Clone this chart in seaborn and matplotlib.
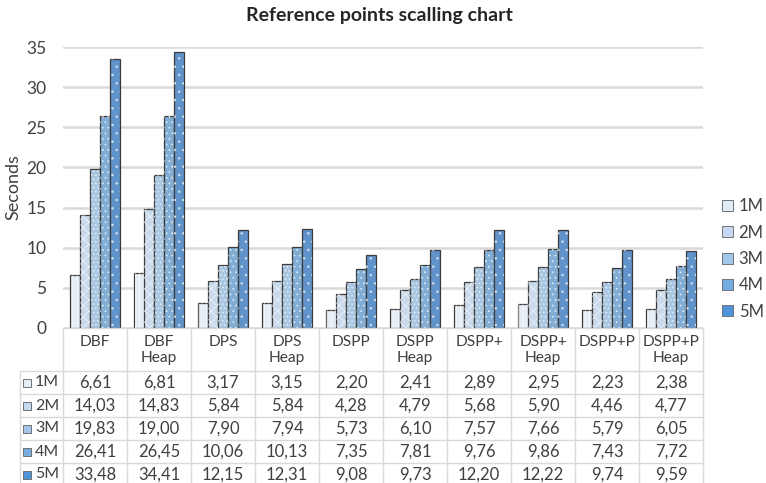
import matplotlib
matplotlib.use("Agg")
import matplotlib.pyplot as plt
from matplotlib.patches import Rectangle, Patch
import pandas as pd
import seaborn as sns

categories = ["DBF", "DBF\nHeap", "DPS", "DPS\nHeap", "DSPP", "DSPP\nHeap",
              "DSPP+", "DSPP+\nHeap", "DSPP+P", "DSPP+P\nHeap"]
sizes = ["1M", "2M", "3M", "4M", "5M"]
t_1m = [6.61, 6.81, 3.17, 3.15, 2.20, 2.41, 2.89, 2.95, 2.23, 2.38]
t_2m = [14.03, 14.83, 5.84, 5.84, 4.28, 4.79, 5.68, 5.90, 4.46, 4.77]
t_3m = [19.83, 19.00, 7.90, 7.94, 5.73, 6.10, 7.57, 7.66, 5.79, 6.05]
t_4m = [26.41, 26.45, 10.06, 10.13, 7.35, 7.81, 9.76, 9.86, 7.43, 7.72]
t_5m = [33.48, 34.41, 12.15, 12.31, 9.08, 9.73, 12.20, 12.22, 9.74, 9.59]
series = [t_1m, t_2m, t_3m, t_4m, t_5m]

colors = ["#e2edf8", "#c3daf1", "#a2c6ea", "#74ade2", "#4f93da"]
hatches = ["||||", "xxx", "....", "...", ".."]
edge = "#3c3c3c"
grid_c = "#d9d9d9"
txt_c = "#404040"

rows = []
for s, vals in zip(sizes, series):
    for c, v in zip(categories, vals):
        rows.append({"algo": c, "size": s, "sec": v})
df = pd.DataFrame(rows)

sns.set_style("white")
plt.rcParams["font.family"] = ["Lato", "DejaVu Sans"]
plt.rcParams["hatch.linewidth"] = 0.6

fig = plt.figure(figsize=(7.66, 4.83), dpi=100)
W, H = 766, 483
ax_l, ax_r, ax_t, ax_b = 63, 703, 47, 328
ax_w = ax_r - ax_l
ax_h = ax_b - ax_t
ax = fig.add_axes([ax_l / W, 1 - ax_b / H, ax_w / W, ax_h / H])

sns.barplot(data=df, x="algo", y="sec", hue="size", palette=colors,
            width=0.78, gap=0, edgecolor=edge, linewidth=0.9,
            legend=False, ax=ax)

# white dotted textures like the Excel fill patterns
for cont, hp in zip(ax.containers, hatches):
    for bar in cont:
        r = Rectangle(bar.get_xy(), bar.get_width(), bar.get_height(),
                      fill=False, edgecolor="white", lw=0, hatch=hp, alpha=0.6)
        ax.add_patch(r)

ax.set_ylim(0, 35)
ax.set_yticks(range(0, 36, 5))
ax.set_xlim(-0.5, 9.5)
ax.yaxis.grid(True, color=grid_c, lw=1.8)
ax.set_axisbelow(True)
for sp in ax.spines.values():
    sp.set_visible(False)
ax.tick_params(axis="y", length=0, pad=12, labelsize=12.5, labelcolor=txt_c)
ax.tick_params(axis="x", length=0, labelbottom=False)
ax.set_xlabel("")
ax.set_ylabel("")

# ---- data table under the plot, drawn in axes-fraction coordinates ----
head_h, row_h = 43, 23
n = len(categories)
lab_x = -43 / ax_w
def ay(ypx):
    return (ax_b - ypx) / ax_h

tr = ax.transAxes
line_kw = dict(color=grid_c, lw=1.0, transform=tr, clip_on=False)
y_head_bot = ax_b + head_h
y_bot = y_head_bot + row_h * len(sizes)
# horizontal rules
ax.plot([0, 1], [ay(ax_b)] * 2, **line_kw)
for i in range(len(sizes) + 1):
    yy = ay(y_head_bot + row_h * i)
    ax.plot([lab_x, 1], [yy, yy], **line_kw)
# vertical rules
ax.plot([lab_x, lab_x], [ay(y_head_bot), ay(y_bot)], **line_kw)
for j in range(n + 1):
    ax.plot([j / n, j / n], [ay(ax_b), ay(y_bot)], **line_kw)

for j, c in enumerate(categories):
    ax.text((j + 0.5) / n, ay(ax_b + 7), c, transform=tr, ha="center", va="top",
            fontsize=11.2, color=txt_c, linespacing=1.2)

for i, (s, vals) in enumerate(zip(sizes, series)):
    yc = ay(y_head_bot + row_h * (i + 0.5))
    ax.text(-4 / ax_w, yc, s, transform=tr, ha="right", va="center",
            fontsize=11.5, color=txt_c)
    ax.add_patch(Rectangle((-40 / ax_w, yc - 4 / ax_h), 8 / ax_w, 8 / ax_h,
                           facecolor=colors[i], edgecolor="#707070", lw=0.7,
                           transform=tr, clip_on=False))
    for j, v in enumerate(vals):
        ax.text((j + 0.5) / n, yc, f"{v:.2f}".replace(".", ","), transform=tr,
                ha="center", va="center", fontsize=12, color=txt_c)

handles = [Patch(facecolor=c, edgecolor="#707070", lw=0.7) for c in colors]
fig.legend(handles, sizes, loc="center left", bbox_to_anchor=(722 / W, 1 - 259 / H),
           frameon=False, fontsize=12, labelspacing=0.62, handlelength=0.65,
           handleheight=0.65, handletextpad=0.35, borderpad=0, borderaxespad=0,
           labelcolor=txt_c)

fig.text(379 / W, 1 - 15 / H, "Reference points scalling chart", ha="center",
         va="center", fontsize=14, fontweight="bold", color="#262626")
fig.text(13 / W, 1 - 187 / H, "Seconds", rotation=90, ha="center", va="center",
         fontsize=13, color=txt_c)

fig.savefig("out.png", dpi=100)
